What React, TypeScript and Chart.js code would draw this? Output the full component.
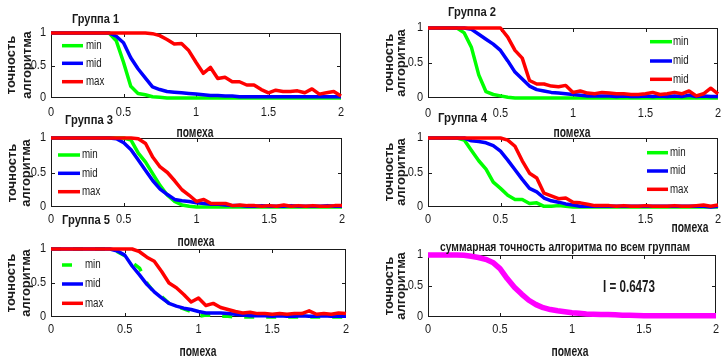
import React, { useEffect, useRef } from 'react';
import { Chart, registerables } from 'chart.js';

Chart.register(...registerables);

const W = 721;
const H = 361;
const YW = 40;
const XH = 30;
const SANS = '"Liberation Sans", Arial, Helvetica, sans-serif';
const INK = '#1a1a1a';

// ---- data ----
const noise = [0, 0.05, 0.1, 0.15, 0.2, 0.25, 0.3, 0.35, 0.4, 0.45, 0.5, 0.55, 0.6, 0.65, 0.7, 0.75, 0.8, 0.85, 0.9, 0.95, 1, 1.05, 1.1, 1.15, 1.2, 1.25, 1.3, 1.35, 1.4, 1.45, 1.5, 1.55, 1.6, 1.65, 1.7, 1.75, 1.8, 1.85, 1.9, 1.95, 2];

const g1Min = [1, 1, 1, 1, 1, 1, 1, 1, 1, 0.88, 0.55, 0.18, 0.07, 0.05, 0.02, 0.01, 0, 0, 0, 0, 0, 0, 0, 0, 0, 0, 0, 0, 0, 0, 0, 0, 0, 0, 0, 0, 0, 0, 0, 0, 0];
const g1Mid = [1, 1, 1, 1, 1, 1, 1, 1, 1, 0.95, 0.85, 0.62, 0.45, 0.31, 0.17, 0.13, 0.1, 0.09, 0.08, 0.07, 0.06, 0.05, 0.04, 0.04, 0.03, 0.03, 0.02, 0.02, 0.02, 0.02, 0.02, 0.02, 0.02, 0.02, 0.02, 0.02, 0.02, 0.02, 0.02, 0.02, 0.02];
const g1Max = [1, 1, 1, 1, 1, 1, 1, 1, 1, 1, 1, 1, 1, 1, 0.99, 0.96, 0.9, 0.83, 0.84, 0.73, 0.55, 0.38, 0.47, 0.3, 0.32, 0.25, 0.25, 0.2, 0.2, 0.13, 0.08, 0.12, 0.1, 0.1, 0.11, 0.08, 0.14, 0.06, 0.08, 0.1, 0.03];

const g2Min = [1, 1, 1, 1, 1, 0.93, 0.72, 0.33, 0.09, 0.05, 0.03, 0.01, 0, 0, 0, 0, 0, 0, 0, 0, 0, 0, 0, 0, 0, 0, 0, 0, 0, 0, 0, 0, 0, 0, 0, 0, 0, 0, 0, 0, 0];
const g2Mid = [1, 1, 1, 1, 1, 1, 0.98, 0.91, 0.84, 0.77, 0.68, 0.53, 0.37, 0.27, 0.17, 0.12, 0.1, 0.08, 0.07, 0.06, 0.05, 0.04, 0.03, 0.03, 0.03, 0.03, 0.02, 0.03, 0.02, 0.02, 0.03, 0.02, 0.03, 0.02, 0.03, 0.02, 0.04, 0.02, 0.03, 0.02, 0.02];
const g2Max = [1, 1, 1, 1, 1, 1, 1, 1, 1, 1, 1, 0.87, 0.68, 0.57, 0.25, 0.2, 0.2, 0.17, 0.16, 0.18, 0.08, 0.1, 0.07, 0.06, 0.08, 0.07, 0.06, 0.06, 0.05, 0.05, 0.06, 0.08, 0.05, 0.06, 0.08, 0.06, 0.1, 0.03, 0.06, 0.14, 0.06];

const g3Min = [1, 1, 1, 1, 1, 1, 1, 1, 1, 1, 1, 0.97, 0.78, 0.65, 0.48, 0.31, 0.17, 0.08, 0.03, 0.01, 0, 0, 0, 0, 0, 0, 0, 0, 0, 0, 0, 0, 0, 0, 0, 0, 0, 0, 0, 0, 0];
const g3Mid = [1, 1, 1, 1, 1, 1, 1, 1, 1, 0.99, 0.93, 0.83, 0.68, 0.53, 0.38, 0.26, 0.18, 0.11, 0.09, 0.08, 0.06, 0.05, 0.04, 0.04, 0.03, 0.02, 0.02, 0.01, 0.01, 0.02, 0.01, 0.01, 0.01, 0.02, 0.01, 0.01, 0.01, 0.01, 0.02, 0.01, 0.01];
const g3Max = [1, 1, 1, 1, 1, 1, 1, 1, 1, 1, 1, 1, 0.99, 0.92, 0.72, 0.58, 0.5, 0.38, 0.25, 0.17, 0.08, 0.11, 0.05, 0.05, 0.05, 0.02, 0.03, 0.02, 0.02, 0.01, 0.02, 0.01, 0.03, 0.01, 0.02, 0.01, 0.02, 0.01, 0.01, 0.02, 0.02];

const g4Min = [1, 1, 1, 1, 1, 0.97, 0.82, 0.67, 0.55, 0.36, 0.27, 0.17, 0.11, 0.11, 0.05, 0.06, 0.01, 0.01, 0.02, 0.01, 0, 0, 0, 0, 0, 0, 0, 0, 0, 0, 0, 0, 0, 0, 0, 0, 0, 0, 0, 0, 0];
const g4Mid = [1, 1, 1, 1, 1, 1, 0.96, 0.95, 0.93, 0.89, 0.81, 0.68, 0.54, 0.4, 0.27, 0.22, 0.13, 0.09, 0.07, 0.045, 0.03, 0.01, 0.01, 0.01, 0.01, 0.01, 0.01, 0.01, 0.01, 0.01, 0.01, 0.01, 0.01, 0.01, 0.01, 0.01, 0.01, 0.01, 0.01, 0, 0.01];
const g4Max = [1, 1, 1, 1, 1, 1, 1, 1, 1, 1, 1, 0.97, 0.88, 0.67, 0.49, 0.42, 0.2, 0.16, 0.12, 0.13, 0.07, 0.06, 0.04, 0.02, 0.02, 0.02, 0.01, 0.02, 0.01, 0.01, 0.02, 0.01, 0.01, 0.01, 0.02, 0.01, 0.01, 0.02, 0.03, 0.01, 0.03];

const g5Min = [1, 1, 1, 1, 1, 1, 1, 1, 1, 0.96, 0.9, 0.8, 0.72, 0.5, 0.36, 0.3, 0.2, 0.15, 0.12, 0.08, 0.01, 0.03, 0.02, 0.01, 0.01, 0, 0, 0, 0, 0, 0, 0, 0, 0, 0, 0, 0, 0, 0, 0, 0];
const g5Mid = [1, 1, 1, 1, 1, 1, 1, 1, 1, 0.97, 0.91, 0.75, 0.62, 0.48, 0.37, 0.28, 0.2, 0.16, 0.13, 0.11, 0.08, 0.06, 0.06, 0.06, 0.05, 0.04, 0.03, 0.02, 0.02, 0.02, 0.01, 0.02, 0.01, 0.01, 0.02, 0.01, 0.01, 0.02, 0.01, 0.01, 0.01];
const g5Max = [1, 1, 1, 1, 1, 1, 1, 1, 1, 1, 1, 1, 0.96, 0.88, 0.82, 0.67, 0.5, 0.43, 0.33, 0.22, 0.28, 0.17, 0.2, 0.14, 0.11, 0.08, 0.06, 0.07, 0.05, 0.05, 0.04, 0.05, 0.04, 0.05, 0.05, 0.09, 0.04, 0.05, 0.04, 0.06, 0.05];

const total = [1, 1, 1, 1, 1, 0.995, 0.98, 0.96, 0.93, 0.88, 0.78, 0.62, 0.48, 0.37, 0.27, 0.2, 0.15, 0.12, 0.1, 0.085, 0.07, 0.06, 0.05, 0.045, 0.04, 0.04, 0.035, 0.03, 0.03, 0.025, 0.02, 0.02, 0.02, 0.02, 0.02, 0.02, 0.02, 0.02, 0.02, 0.02, 0.02];

const labelsStd = ['min', 'mid', 'max'];
const labelsG2 = ['min', 'mid', 'mid'];
const groupTitles = ['Группа 1', 'Группа 2', 'Группа 3', 'Группа 4', 'Группа 5'];
const totalTitle = 'суммарная точность алгоритма по всем группам';
const noteText = 'I = 0.6473';
const xLabel = 'помеха';
const yLabelLines = ['точность', 'алгоритма'];

const GREEN = '#00ff00';
const BLUE = '#0000ff';
const RED = '#ff0000';
const MAGENTA = '#ff00ff';

type Series = { label: string; values: number[]; color: string; width: number; dash?: number[] };
type PanelCfg = {
  rect: [number, number, number, number];
  xTickDy: number;
  series: Series[];
  title: { text: string; x: number; y: number; align: CanvasTextAlign; w: number };
  xlab: { x: number; y: number };
  ylab: { x1: number; x2: number; y: number };
  legend?: { x0: number; x1: number; tx: number; ys: number[] };
  note?: { text: string; x: number; y: number };
};

const trio = (labels: string[], a: number[], b: number[], c: number[], dashMin?: number[]): Series[] => [
  { label: labels[0], values: a, color: GREEN, width: 3.5, dash: dashMin },
  { label: labels[1], values: b, color: BLUE, width: 3.5 },
  { label: labels[2], values: c, color: RED, width: 3.5 },
];

const panels: PanelCfg[] = [
  {
    rect: [51, 33, 341, 98],
    xTickDy: 15,
    series: trio(labelsStd, g1Min, g1Mid, g1Max),
    title: { text: groupTitles[0], x: 72, y: 19, align: 'left', w: 47 },
    xlab: { x: 195, y: 133 },
    ylab: { x1: 12, x2: 28, y: 65 },
    legend: { x0: 62, x1: 83, tx: 86, ys: [45.7, 63.3, 81.7] },
  },
  {
    rect: [428, 28, 718, 98],
    xTickDy: 16,
    series: trio(labelsG2, g2Min, g2Mid, g2Max),
    title: { text: groupTitles[1], x: 448, y: 12, align: 'left', w: 48 },
    xlab: { x: 572, y: 133 },
    ylab: { x1: 390, x2: 402, y: 63 },
    legend: { x0: 650, x1: 672, tx: 673, ys: [41.7, 61, 79.3] },
  },
  {
    rect: [51, 138, 342, 207],
    xTickDy: 13,
    series: trio(labelsStd, g3Min, g3Mid, g3Max),
    title: { text: groupTitles[2], x: 65, y: 120, align: 'left', w: 48 },
    xlab: { x: 196, y: 242 },
    ylab: { x1: 13, x2: 27, y: 173 },
    legend: { x0: 58, x1: 80, tx: 82, ys: [155, 173.3, 191.7] },
  },
  {
    rect: [428, 138, 718, 207],
    xTickDy: 13,
    series: trio(labelsStd, g4Min, g4Mid, g4Max),
    title: { text: groupTitles[3], x: 438, y: 118, align: 'left', w: 49 },
    xlab: { x: 690, y: 228 },
    ylab: { x1: 390, x2: 402, y: 172 },
    legend: { x0: 647, x1: 668, tx: 670, ys: [152.7, 171, 189.3] },
  },
  {
    rect: [51, 249, 346, 317],
    xTickDy: 13,
    series: trio(labelsStd, g5Min, g5Mid, g5Max, [10, 12]),
    title: { text: groupTitles[4], x: 62, y: 220, align: 'left', w: 48 },
    xlab: { x: 198, y: 352 },
    ylab: { x1: 12, x2: 27, y: 283 },
    legend: { x0: 62, x1: 83, tx: 85, ys: [265, 284, 303.3] },
  },
  {
    rect: [428, 255, 716, 317],
    xTickDy: 13,
    series: [{ label: 'total', values: total, color: MAGENTA, width: 5.5 }],
    title: { text: totalTitle, x: 565, y: 247, align: 'center', w: 250 },
    xlab: { x: 570, y: 352 },
    ylab: { x1: 390, x2: 402, y: 286 },
    note: { text: noteText, x: 629, y: 288 },
  },
];

function drawText(
  ctx: CanvasRenderingContext2D,
  text: string,
  x: number,
  y: number,
  font: string,
  align: CanvasTextAlign,
  opt: { sx?: number; w?: number }
) {
  ctx.save();
  ctx.font = font;
  let sx = opt.sx ?? 1;
  if (opt.w) sx = opt.w / ctx.measureText(text).width;
  ctx.translate(x, y);
  ctx.scale(sx, 1);
  ctx.textAlign = align;
  ctx.textBaseline = 'middle';
  ctx.fillStyle = INK;
  ctx.fillText(text, 0, 0);
  ctx.restore();
}

function makePlugin(p: PanelCfg) {
  return {
    id: 'matlabFrame',
    beforeDatasetsDraw(chart: any) {
      const { ctx, chartArea: a, scales } = chart;
      const xs = scales.x;
      const ys = scales.y;
      const l = Math.round(a.left) + 0.5;
      const r = Math.round(a.right) - 0.5;
      const t = Math.round(a.top) + 0.5;
      const b = Math.round(a.bottom) - 0.5;
      ctx.save();
      ctx.strokeStyle = INK;
      ctx.lineWidth = 1;
      ctx.strokeRect(l, t, r - l, b - t);
      const TL = 3.5;
      ctx.beginPath();
      xs.ticks.forEach((tk: any) => {
        if (tk.value <= 0 || tk.value >= 2) return;
        const px = Math.round(xs.getPixelForValue(tk.value)) + 0.5;
        ctx.moveTo(px, b);
        ctx.lineTo(px, b - TL);
        ctx.moveTo(px, t);
        ctx.lineTo(px, t + TL);
      });
      ys.ticks.forEach((tk: any) => {
        if (tk.value <= 0 || tk.value >= 1) return;
        const py = Math.round(ys.getPixelForValue(tk.value)) + 0.5;
        ctx.moveTo(l, py);
        ctx.lineTo(l + TL, py);
        ctx.moveTo(r, py);
        ctx.lineTo(r - TL, py);
      });
      ctx.stroke();
      ctx.restore();
    },
    afterDatasetsDraw(chart: any) {
      const { ctx, chartArea: a, scales } = chart;
      const xs = scales.x;
      const ys = scales.y;
      const tickFont = `12.5px ${SANS}`;
      // tick labels from the library's scales
      xs.ticks.forEach((tk: any) => {
        drawText(ctx, String(tk.label), xs.getPixelForValue(tk.value), a.bottom + p.xTickDy, tickFont, 'center', { sx: 0.88 });
      });
      ys.ticks.forEach((tk: any) => {
        drawText(ctx, String(tk.label), a.left - 5, ys.getPixelForValue(tk.value), tickFont, 'right', { sx: 0.88 });
      });
      // title
      drawText(ctx, p.title.text, p.title.x, p.title.y, `bold 13px ${SANS}`, p.title.align, { w: p.title.w });
      // x label
      drawText(ctx, xLabel, p.xlab.x, p.xlab.y, `bold 14px ${SANS}`, 'center', { w: 37 });
      // y label (two lines, rotated)
      ctx.save();
      ctx.fillStyle = INK;
      ctx.font = `bold 13px ${SANS}`;
      [p.ylab.x1, p.ylab.x2].forEach((xx, i) => {
        ctx.save();
        ctx.translate(xx, p.ylab.y);
        ctx.rotate(-Math.PI / 2);
        ctx.scale(1, 0.92);
        ctx.textAlign = 'center';
        ctx.textBaseline = 'middle';
        ctx.fillText(yLabelLines[i], 0, 0);
        ctx.restore();
      });
      ctx.restore();
      // legend
      if (p.legend) {
        const lg = p.legend;
        chart.data.datasets.forEach((ds: any, i: number) => {
          const y = lg.ys[i];
          ctx.save();
          ctx.strokeStyle = ds.borderColor;
          ctx.lineWidth = ds.borderWidth;
          ctx.setLineDash(ds.borderDash || []);
          ctx.beginPath();
          ctx.moveTo(lg.x0, y);
          ctx.lineTo(lg.x1, y);
          ctx.stroke();
          ctx.restore();
          drawText(ctx, ds.label, lg.tx, y, `12.5px ${SANS}`, 'left', { sx: 0.78 });
        });
      }
      if (p.note) {
        drawText(ctx, p.note.text, p.note.x, p.note.y, `bold 16px ${SANS}`, 'center', { w: 52 });
      }
    },
  };
}

function buildConfig(p: PanelCfg): any {
  const [L, T, R, B] = p.rect;
  const n = p.series.length;
  return {
    type: 'line',
    data: {
      datasets: p.series.map((s, i) => ({
        label: s.label,
        data: noise.map((x, j) => ({ x, y: s.values[j] })),
        borderColor: s.color,
        backgroundColor: s.color,
        borderWidth: s.width,
        borderDash: s.dash || [],
        borderJoinStyle: 'round',
        pointRadius: 0,
        tension: 0,
        fill: false,
        clip: false,
        order: n - i,
      })),
    },
    options: {
      responsive: false,
      animation: false,
      events: [],
      layout: { padding: { left: L - YW, top: T, right: W - R, bottom: H - B - XH } },
      plugins: { legend: { display: false }, tooltip: { enabled: false }, title: { display: false } },
      scales: {
        x: {
          type: 'linear',
          position: 'bottom',
          min: 0,
          max: 2,
          ticks: { display: false, stepSize: 0.5, callback: (v: number) => String(v) },
          grid: { display: false, drawTicks: false },
          border: { display: false },
          afterFit: (s: any) => {
            s.height = XH;
            s.paddingLeft = 0;
            s.paddingRight = 0;
          },
        },
        y: {
          type: 'linear',
          position: 'left',
          min: 0,
          max: 1,
          ticks: { display: false, stepSize: 0.5, callback: (v: number) => String(v) },
          grid: { display: false, drawTicks: false },
          border: { display: false },
          afterFit: (s: any) => {
            s.width = YW;
            s.paddingTop = 0;
            s.paddingBottom = 0;
          },
        },
      },
    },
    plugins: [makePlugin(p)],
  };
}

function Panel({ cfg }: { cfg: PanelCfg }) {
  const ref = useRef<HTMLCanvasElement>(null);
  useEffect(() => {
    if (!ref.current) return;
    const chart = new Chart(ref.current, buildConfig(cfg));
    return () => chart.destroy();
  }, [cfg]);
  return (
    <canvas
      ref={ref}
      width={W}
      height={H}
      style={{ position: 'absolute', left: 0, top: 0, width: W, height: H }}
    />
  );
}

export default function App() {
  return (
    <div style={{ position: 'fixed', left: 0, top: 0, width: W, height: H, background: '#fff', overflow: 'hidden' }}>
      {panels.map((p, i) => (
        <Panel key={i} cfg={p} />
      ))}
    </div>
  );
}
